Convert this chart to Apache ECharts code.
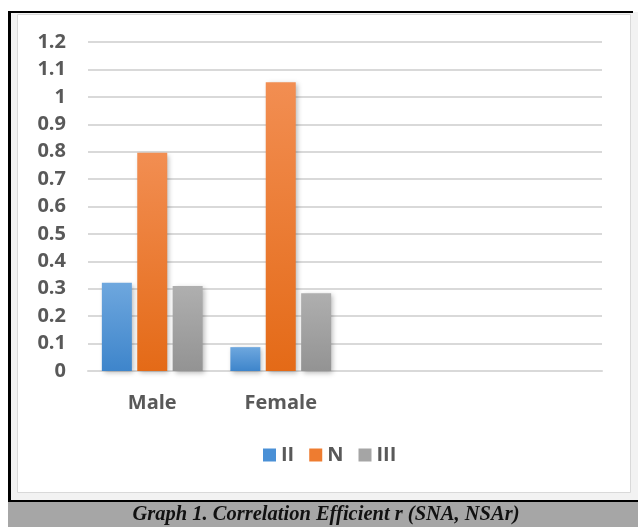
<!DOCTYPE html>
<html>
<head>
<meta charset="utf-8">
<script src="https://cdn.jsdelivr.net/npm/echarts@6/dist/echarts.min.js"></script>
<style>
html,body{margin:0;padding:0;background:#fff;}
#c{width:638px;height:527px;}
</style>
</head>
<body>
<div id="c"></div>
<script>
var categories = ['Male', 'Female', '', ''];
var seriesNames = ['II', 'N', 'III'];
var valuesII = [0.322, 0.087, null, null];
var valuesN = [0.796, 1.053, null, null];
var valuesIII = [0.31, 0.284, null, null];
var yTicks = [0, 0.1, 0.2, 0.3, 0.4, 0.5, 0.6, 0.7, 0.8, 0.9, 1, 1.1, 1.2];
var caption = 'Graph 1. Correlation Efficient r (SNA, NSAr)';

function grad(top, bottom) {
  return new echarts.graphic.LinearGradient(0, 0, 0, 1, [
    {offset: 0, color: top}, {offset: 1, color: bottom}
  ]);
}
var colorTop = ['#6ea7de', '#f28e52', '#afafaf'];
var colorBot = ['#3e85cb', '#e46a17', '#939393'];
var legendColors = ['#4a90d6', '#ee7c30', '#a5a5a5'];

var chart = echarts.init(document.getElementById('c'), null, {renderer: 'canvas'});
var labelFont = '"Open Sans", "Lato", sans-serif';

function mkSeries(name, data, i) {
  return {
    name: name,
    type: 'bar',
    data: data,
    barWidth: 30,
    barGap: '18%',
    color: legendColors[i],
    itemStyle: {
      color: grad(colorTop[i], colorBot[i]),
      shadowBlur: 5,
      shadowColor: 'rgba(0,0,0,0.28)',
      shadowOffsetX: 2,
      shadowOffsetY: 2
    }
  };
}

chart.setOption({
  animation: false,
  backgroundColor: '#ffffff',
  grid: {left: 88, right: 36, top: 42, bottom: 156, containLabel: false},
  legend: {
    data: seriesNames.map(function (n, i) {
      return {name: n, itemStyle: {color: legendColors[i]}};
    }),
    left: 263,
    top: 445,
    padding: 0,
    itemWidth: 13,
    itemHeight: 13,
    itemGap: 15,
    icon: 'rect',
    textStyle: {fontFamily: labelFont, fontWeight: 'bold', fontSize: 20, color: '#595959'}
  },
  xAxis: {
    type: 'category',
    data: categories,
    axisLine: {show: true, lineStyle: {color: '#d9d9d9', width: 2}},
    axisTick: {show: false},
    axisLabel: {fontFamily: labelFont, fontWeight: 'bold', fontSize: 20, color: '#595959', margin: 22}
  },
  yAxis: {
    type: 'value',
    min: 0,
    max: 1.2,
    interval: 0.1,
    axisLine: {show: false},
    axisTick: {show: false},
    splitLine: {lineStyle: {color: '#d9d9d9', width: 2}},
    axisLabel: {
      fontFamily: labelFont, fontWeight: 'bold', fontSize: 20, color: '#595959', margin: 22,
      formatter: function (v) {
        var r = Math.round(v * 10) / 10;
        for (var k = 0; k < yTicks.length; k++) if (Math.abs(yTicks[k] - r) < 1e-9) return String(yTicks[k]);
        return '';
      }
    }
  },
  series: [
    mkSeries(seriesNames[0], valuesII, 0),
    mkSeries(seriesNames[1], valuesN, 1),
    mkSeries(seriesNames[2], valuesIII, 2)
  ],
  graphic: [
    {type: 'rect', z: -10, silent: true, shape: {x: 8, y: 12, width: 630, height: 515}, style: {fill: '#f2f2f2'}},
    {type: 'rect', z: -9, silent: true, shape: {x: 17.5, y: 14.5, width: 613, height: 478}, style: {fill: '#ffffff', stroke: '#d9d9d9', lineWidth: 1}},
    {type: 'rect', z: 10, silent: true, shape: {x: 8, y: 11, width: 625, height: 2}, style: {fill: '#000'}},
    {type: 'rect', z: 10, silent: true, shape: {x: 8, y: 11, width: 3, height: 516}, style: {fill: '#000'}},
    {type: 'rect', z: 10, silent: true, shape: {x: 8, y: 500, width: 630, height: 27}, style: {fill: '#a6a6a6'}},
    {type: 'rect', z: 11, silent: true, shape: {x: 8, y: 500, width: 630, height: 2}, style: {fill: '#000'}},
    {type: 'text', z: 12, silent: true, x: 326, y: 505, style: {
      text: caption, fill: '#111', align: 'center', verticalAlign: 'top',
      font: 'italic bold 20.5px "Liberation Serif", serif'
    }}
  ]
});
</script>
</body>
</html>
